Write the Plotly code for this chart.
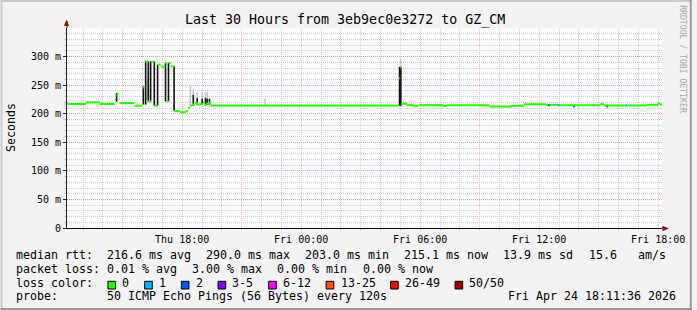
import plotly.graph_objects as go
import pandas as pd

# ---------------- data ----------------
start = pd.Timestamp("2026-04-23 12:11:36")
span_min = 1800  # 30 hours

# median rtt (ms) as steps: value holds from t_min[i] to t_min[i+1]
t_min = [0, 57, 99, 144, 147, 150, 153, 156, 159, 204, 228, 237, 246, 254, 264,
         274, 284, 297, 301, 307, 314, 324, 342, 359, 366, 372, 378, 387, 396,
         402, 411, 417, 423, 429, 435, 1005, 1008, 1012, 1029, 1049, 1064, 1139,
         1149, 1278, 1344, 1383, 1449, 1455, 1461, 1482, 1491, 1614, 1623, 1687,
         1695, 1755, 1788, 1794]
median_ms = [217, 219.8, 217, 224, 232, 236, 234, 226, 218.5, 214, 246, 291,
             221.5, 291, 214, 286, 282.5, 289, 221.5, 289, 283, 204.5, 202.5,
             204.5, 210, 214, 216, 218.7, 216, 217, 219, 216, 218, 219, 214.5,
             262, 281, 217.5, 215, 213.5, 215, 213.5, 215, 212.5, 214, 216.5,
             215, 215, 215.5, 215, 215, 217, 214.5, 214.5, 214.5, 215.5, 218, 216]
loss_pings = [0] * len(t_min)
loss_pings[t_min.index(1455)] = 2
loss_pings[t_min.index(1482)] = 1
loss_pings[t_min.index(1687)] = 1

# smoke (spread of individual pings)
smoke_dark_t = [150, 231, 238, 246, 253, 264, 274, 298, 307, 324, 382, 394, 409,
                419, 424, 431, 1006, 1010, 1289, 1342, 1534, 1634]
smoke_dark_lo = [221, 216, 216, 221.5, 221.5, 214, 214, 221.5, 221.5, 205, 214,
                 216, 216, 214, 216, 216, 214, 214, 211.5, 211.5, 211.5, 211.5]
smoke_dark_hi = [236, 248, 291.6, 291.6, 291.6, 291.6, 286, 289, 289, 283, 233,
                 228, 226, 228, 226, 226, 282, 282, 214, 214, 214, 214]
smoke_light_t = [243, 373, 382, 394, 409, 419, 424, 599, 1009]
smoke_light_lo = [225, 214, 233, 228, 226, 228, 226, 216, 282]
smoke_light_hi = [262, 249, 243, 238, 238, 236, 238, 226, 296]

loss_labels = ["0", "1", "2", "3-5", "6-12", "13-25", "26-49", "50/50"]
loss_lower = [0, 1, 2, 3, 6, 13, 26, 50]
loss_colors = ["#26ff00", "#00b8ff", "#0059ff", "#7e00ff", "#ff00ff",
               "#ff5500", "#ff0000", "#a10000"]

y_tickvals = [0, 50, 100, 150, 200, 250, 300]
y_ticktext = ["0", "50 m", "100 m", "150 m", "200 m", "250 m", "300 m"]
x_tick_hours = ["2026-04-23 15:00", "2026-04-23 18:00", "2026-04-23 21:00",
                "2026-04-24 00:00", "2026-04-24 03:00", "2026-04-24 06:00",
                "2026-04-24 09:00", "2026-04-24 12:00", "2026-04-24 15:00",
                "2026-04-24 18:00"]
x_ticktext = ["", "Thu 18:00", "", "Fri 00:00", "", "Fri 06:00", "",
              "Fri 12:00", "", "Fri 18:00"]

title_text = "Last 30 Hours from 3eb9ec0e3272 to GZ_CM"
row_rtt = ["median rtt:", "216.6 ms avg", "290.0 ms max", "203.0 ms min",
           "215.1 ms now", "13.9 ms sd", "15.6   am/s"]
row_loss = ["packet loss:", "0.01 % avg", "3.00 % max", "0.00 % min", "0.00 % now"]
row_probe = ["probe:", "50 ICMP Echo Pings (56 Bytes) every 120s"]
stamp = "Fri Apr 24 18:11:36 2026"

# ---------------- layout helpers ----------------
W_FIG, H_FIG = 697, 310
L, T, W, H = 67, 28, 600, 200
FONT = "DejaVu Sans Mono"
FS = 11.63
CW = 7.0
MAJOR_X = "#f5bcbc"
MAJOR_Y = "#f0a2a2"
MINOR = "#cdcdcd"


def px(x):
    return (x - L) / W


def py(y):
    return (T + H - y) / H


def tm(m):
    return start + pd.Timedelta(minutes=m)


end = tm(span_min)

# minor grid positions (those not on a major line)
major_x = [pd.Timestamp(t) for t in x_tick_hours]
minor_x = [h for h in pd.date_range(start.ceil("h"), end, freq="h") if h not in major_x]
minor_y = [v for v in range(10, 351, 10) if v % 50 != 0]

fig = go.Figure()


def seg_trace(ts, lo, hi, color, width):
    xs, ys = [], []
    for t, a, b in zip(ts, lo, hi):
        xs += [tm(t), tm(t), None]
        ys += [a, b, None]
    fig.add_trace(go.Scatter(x=xs, y=ys, mode="lines",
                             line=dict(color=color, width=width),
                             hoverinfo="skip", showlegend=False))


seg_trace(smoke_light_t, smoke_light_lo, smoke_light_hi, "#c4c4c4", 1.5)
seg_trace(smoke_dark_t, smoke_dark_lo, smoke_dark_hi, "#141414", 1.6)


def bucket(n):
    b = 0
    for i, lo in enumerate(loss_lower):
        if n >= lo:
            b = i
    return b


t_ends = t_min[1:] + [span_min]
for bi, col in enumerate(loss_colors):
    xs, ys = [], []
    for t0, t1, v, n in zip(t_min, t_ends, median_ms, loss_pings):
        if bucket(n) == bi:
            xs += [tm(t0), tm(t1), None]
            ys += [v, v, None]
    if xs:
        fig.add_trace(go.Scatter(x=xs, y=ys, mode="lines",
                                 line=dict(color=col, width=2),
                                 hoverinfo="skip", showlegend=False))

annotations = []


def text(s, x, y, size=FS, anchor="left", color="#000", angle=0, yanchor="middle"):
    annotations.append(dict(text=s, x=px(x), y=py(y), xref="paper", yref="paper",
                            xanchor=anchor, yanchor=yanchor, showarrow=False,
                            textangle=angle, borderpad=0, borderwidth=0,
                            font=dict(family=FONT, size=size, color=color)))


text(title_text, 347.3, 19.5, size=13.3, anchor="center")
text("Seconds", 10.5, 127, angle=-90, anchor="center")
text("RRDTOOL / TOBI OETIKER", 688, 59, size=8.15, anchor="center",
     color="#a8a8a8", angle=90)

ROWS_Y = [254.5, 268.5, 282.5, 296.3]
X0 = 15.5
XV = 107.0


def row(items, y, gap=16):
    text(items[0], X0, y)
    x = XV
    for s in items[1:]:
        text(s, x, y)
        x += len(s) * CW + gap


row(row_rtt, ROWS_Y[0])
row(row_loss, ROWS_Y[1])
row(row_probe, ROWS_Y[3])
text(stamp, 680.8, ROWS_Y[3], anchor="right")
text("loss color:", X0, ROWS_Y[2])

shapes = []
bx = 108.3
for lab, col in zip(loss_labels, loss_colors):
    shapes.append(dict(type="rect", xref="paper", yref="paper",
                       x0=px(bx), x1=px(bx + 7.7), y0=py(289), y1=py(281.3),
                       fillcolor=col, line=dict(color="#000", width=1)))
    text(lab, bx + 14.5, ROWS_Y[2])
    bx = bx + 15 + len(lab) * CW + 15

# axis extensions and arrows
AX = "#222"
ARROW = "#8b1a1a"
shapes.append(dict(type="line", xref="paper", yref="paper", x0=0, x1=0,
                   y0=1, y1=py(21), line=dict(color=AX, width=1)))
shapes.append(dict(type="line", xref="paper", yref="paper", x0=1, x1=px(672),
                   y0=0, y1=0, line=dict(color=AX, width=1)))
shapes.append(dict(type="path", xref="paper", yref="paper",
                   path=f"M {px(66.5)} {py(19.5)} L {px(63.8)} {py(26)} L {px(69.2)} {py(26)} Z",
                   fillcolor=ARROW, line=dict(width=0)))
shapes.append(dict(type="path", xref="paper", yref="paper",
                   path=f"M {px(673.8)} {py(228.5)} L {px(667.5)} {py(225.8)} L {px(667.5)} {py(231.2)} Z",
                   fillcolor=ARROW, line=dict(width=0)))
# frame
shapes.append(dict(type="rect", xref="paper", yref="paper", x0=px(0), x1=px(697),
                   y0=py(2), y1=py(0), fillcolor="#cbcbcb", line=dict(width=0), layer="below"))
shapes.append(dict(type="rect", xref="paper", yref="paper", x0=px(0), x1=px(2),
                   y0=py(310), y1=py(0), fillcolor="#cbcbcb", line=dict(width=0), layer="below"))
shapes.append(dict(type="rect", xref="paper", yref="paper", x0=px(695), x1=px(697),
                   y0=py(310), y1=py(0), fillcolor="#999999", line=dict(width=0), layer="below"))
shapes.append(dict(type="rect", xref="paper", yref="paper", x0=px(0), x1=px(697),
                   y0=py(310), y1=py(308), fillcolor="#999999", line=dict(width=0), layer="below"))

fig.update_layout(
    width=W_FIG, height=H_FIG,
    margin=dict(l=L, r=W_FIG - L - W, t=T, b=H_FIG - T - H, pad=0),
    paper_bgcolor="#f3f3f3", plot_bgcolor="#fcfcfc",
    showlegend=False,
    annotations=annotations, shapes=shapes,
    xaxis=dict(type="date", range=[start, end], tickmode="array",
               tickvals=major_x, ticktext=x_ticktext,
               showgrid=True, gridcolor=MAJOR_X, griddash="1px,1px", gridwidth=1,
               ticks="outside", ticklen=2, tickcolor=MAJOR_X,
               tickfont=dict(family=FONT, size=10, color="#000"),
               showline=True, linecolor="#000", linewidth=1, zeroline=False,
               fixedrange=True, layer="below traces",
               minor=dict(tickmode="array", tickvals=minor_x,
                          showgrid=True, gridcolor=MINOR, griddash="1px,1px",
                          ticks="outside", ticklen=2, tickcolor=MINOR)),
    yaxis=dict(range=[0, 350], tickmode="array", tickvals=y_tickvals,
               ticktext=y_ticktext, showgrid=True, gridcolor=MAJOR_Y,
               griddash="1px,1px", gridwidth=1, ticks="outside", ticklen=3,
               tickcolor="#222", tickfont=dict(family=FONT, size=10, color="#000"),
               showline=True, linecolor=AX, linewidth=1, zeroline=False,
               fixedrange=True,
               minor=dict(tickmode="array", tickvals=minor_y, showgrid=True,
                          gridcolor=MINOR, griddash="1px,1px", ticks="outside",
                          ticklen=2, tickcolor=MINOR)),
)

fig.write_html("out.html", config={"displayModeBar": False})
